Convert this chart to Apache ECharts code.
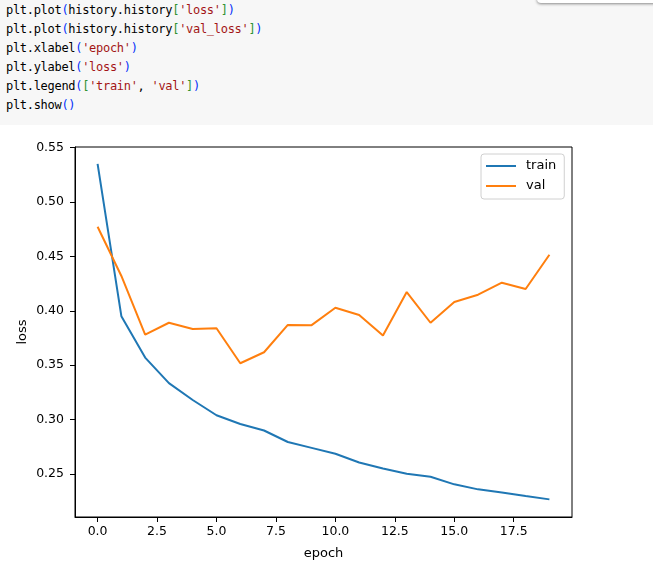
<!DOCTYPE html>
<html>
<head>
<meta charset="utf-8">
<script src="https://cdn.jsdelivr.net/npm/echarts@6/dist/echarts.min.js"></script>
<style>
  html, body { margin: 0; padding: 0; background: #fff; width: 653px; height: 567px; overflow: hidden; }
  #code {
    position: absolute; left: 0; top: 0; width: 653px; height: 125px;
    background: #f7f7f7;
  }
  #code pre {
    margin: 0; padding: 1px 0 0 6px;
    font-family: "DejaVu Sans Mono", monospace; font-size: 12px;
    letter-spacing: -0.3px; line-height: 19px; color: #000;
  }
  .p { color: #0431fa; }
  .b { color: #319331; }
  .s { color: #a31515; }
  #toolbar {
    position: absolute; left: 537px; top: -6px; width: 130px; height: 9px;
    background: #fff; border-radius: 4px; box-shadow: 0 1px 3px rgba(0,0,0,0.45);
  }
  #main { position: absolute; left: 0; top: 125px; width: 653px; height: 442px; }
</style>
</head>
<body>
<div id="code">
<pre>plt.plot<span class="p">(</span>history.history<span class="b">[</span><span class="s">'loss'</span><span class="b">]</span><span class="p">)</span>
plt.plot<span class="p">(</span>history.history<span class="b">[</span><span class="s">'val_loss'</span><span class="b">]</span><span class="p">)</span>
plt.xlabel<span class="p">(</span><span class="s">'epoch'</span><span class="p">)</span>
plt.ylabel<span class="p">(</span><span class="s">'loss'</span><span class="p">)</span>
plt.legend<span class="p">(</span><span class="b">[</span><span class="s">'train'</span>, <span class="s">'val'</span><span class="b">]</span><span class="p">)</span>
plt.show<span class="p">()</span></pre>
</div>
<div id="toolbar"></div>
<div id="main"></div>
<script>
var epochs = [0, 1, 2, 3, 4, 5, 6, 7, 8, 9, 10, 11, 12, 13, 14, 15, 16, 17, 18, 19];
var trainLoss = [0.535, 0.395, 0.357, 0.3335, 0.318, 0.304, 0.296, 0.290, 0.2794, 0.274,
                 0.2686, 0.2606, 0.2551, 0.2503, 0.2475, 0.2405, 0.2359, 0.2331, 0.2298, 0.2267];
var valLoss = [0.4772, 0.432, 0.378, 0.389, 0.3833, 0.3839, 0.3518, 0.3619, 0.387, 0.3868,
               0.4028, 0.3961, 0.3772, 0.4172, 0.389, 0.4081, 0.4148, 0.4258, 0.42, 0.4515];
var xTicks = [0, 2.5, 5, 7.5, 10, 12.5, 15, 17.5];
var yTicks = [0.25, 0.30, 0.35, 0.40, 0.45, 0.50, 0.55];

var font = 'DejaVu Sans';

function pairs(xs, ys) {
  var res = [];
  for (var i = 0; i < xs.length; i++) {
    res.push([xs[i], ys[i]]);
  }
  return res;
}

var myChart = echarts.init(document.getElementById('main'));

var option = {
  animation: false,
  grid: {
    left: 75, right: 81, top: 22, bottom: 50,
    show: true, borderColor: '#000', borderWidth: 1, backgroundColor: '#fff'
  },
  legend: {
    left: 481, top: 29,
    orient: 'vertical',
    icon: 'rect',
    itemWidth: 30, itemHeight: 2,
    itemGap: 6,
    padding: [5, 8, 6, 5],
    backgroundColor: '#fff',
    borderColor: '#d0d0d0', borderWidth: 1, borderRadius: 3,
    textStyle: { fontFamily: font, fontSize: 13, color: '#000', padding: [0, 0, 0, 5], lineHeight: 14 },
    data: ['train', 'val']
  },
  xAxis: {
    type: 'value',
    min: -0.95, max: 19.95,
    name: 'epoch', nameLocation: 'middle', nameGap: 30, nameMoveOverlap: false,
    nameTextStyle: { fontFamily: font, fontSize: 13, color: '#000' },
    axisLine: { onZero: false, lineStyle: { color: '#000', width: 1 } },
    axisTick: { inside: false, length: 5, lineStyle: { color: '#000' }, customValues: xTicks },
    axisLabel: {
      fontFamily: font, fontSize: 12.5, color: '#000', margin: 8,
      customValues: xTicks,
      formatter: function (v) { return v.toFixed(1); }
    },
    splitLine: { show: false }
  },
  yAxis: {
    type: 'value',
    min: 0.2105, max: 0.5505,
    name: 'loss', nameLocation: 'middle', nameGap: 46, nameMoveOverlap: false,
    nameTextStyle: { fontFamily: font, fontSize: 13, color: '#000' },
    axisLine: { show: true, onZero: false, lineStyle: { color: '#000', width: 1 } },
    axisTick: { show: true, inside: false, length: 5, lineStyle: { color: '#000' }, customValues: yTicks },
    axisLabel: {
      fontFamily: font, fontSize: 12.5, color: '#000', margin: 11,
      customValues: yTicks,
      formatter: function (v) { return v.toFixed(2); }
    },
    splitLine: { show: false }
  },
  series: [
    {
      name: 'train', type: 'line',
      data: pairs(epochs, trainLoss),
      symbol: 'none', showSymbol: false,
      color: '#1f77b4',
      lineStyle: { color: '#1f77b4', width: 2 }
    },
    {
      name: 'val', type: 'line',
      data: pairs(epochs, valLoss),
      symbol: 'none', showSymbol: false,
      color: '#ff7f0e',
      lineStyle: { color: '#ff7f0e', width: 2 }
    }
  ]
};
myChart.setOption(option);
</script>
</body>
</html>
